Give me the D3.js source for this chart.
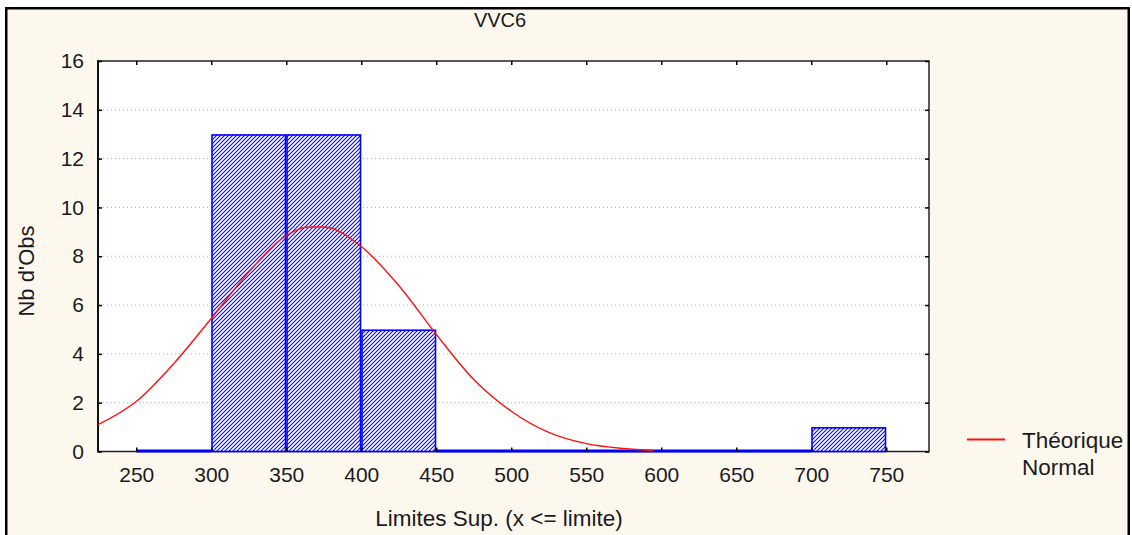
<!DOCTYPE html>
<html>
<head>
<meta charset="utf-8">
<script src="https://cdn.jsdelivr.net/npm/d3@7"></script>
<style>
  body { margin: 0; background: #fff; }
  svg { display: block; }
  text { font-family: "Liberation Sans", Arial, sans-serif; fill: #1a1a24; }
</style>
</head>
<body>
<svg id="chart" width="1132" height="535"></svg>
<script>
// Histogram of VVC6: upper class limits and counts per class
const binEdges = [250, 300, 350, 400, 450, 500, 550, 600, 650, 700, 750];
const binCounts = [0, 13, 13, 5, 0, 0, 0, 0, 0, 1];

// Expected (normal) frequencies along the x range
const normalX = [224.5, 250, 275, 300, 325, 350, 365, 375, 400, 425, 450, 475, 500, 525, 550, 575, 595];
const normalY = [1.1, 2.05, 3.6, 5.45, 7.35, 8.85, 9.2, 9.2, 8.4, 6.8, 4.8, 2.95, 1.65, 0.78, 0.32, 0.12, 0.04];

const xTicks = [250, 300, 350, 400, 450, 500, 550, 600, 650, 700, 750];
const yTicks = [0, 2, 4, 6, 8, 10, 12, 14, 16];

const titleText = "VVC6";
const xTitle = "Limites Sup. (x <= limite)";
const yTitle = "Nb d'Obs";
const legendLines = ["Théorique", "Normal"];

const svg = d3.select("#chart");
const plot = { left: 98, right: 929, top: 61, bottom: 451.5 };

const x = d3.scaleLinear().domain([224.5, 778.5]).range([plot.left, plot.right]);
const y = d3.scaleLinear().domain([0, 16]).range([plot.bottom, plot.top]);

// hatch fill for the bars
const P = 4;
const defs = svg.append("defs");
const pat = defs.append("pattern")
  .attr("id", "hatch")
  .attr("patternUnits", "userSpaceOnUse")
  .attr("width", P).attr("height", P);
pat.append("rect").attr("width", P).attr("height", P).attr("fill", "#fff");
pat.append("path")
  .attr("d", `M-1,1 L1,-1 M0,${P} L${P},0 M${P - 1},${P + 1} L${P + 1},${P - 1}`)
  .attr("stroke", "#0a0af5").attr("stroke-width", 1.15);

// outer panel
svg.append("rect")
  .attr("x", 6.25).attr("y", 8.25)
  .attr("width", 1122.5).attr("height", 600)
  .attr("fill", "#fdf8ed").attr("stroke", "#000").attr("stroke-width", 2.5);

// plot area
svg.append("rect")
  .attr("x", plot.left).attr("y", plot.top)
  .attr("width", plot.right - plot.left).attr("height", plot.bottom - plot.top)
  .attr("fill", "#fff").attr("stroke", "#222").attr("stroke-width", 1.5);

// dotted horizontal grid
svg.append("g").selectAll("line")
  .data(yTicks.filter(t => t > 0 && t < 16))
  .join("line")
  .attr("x1", plot.left + 1).attr("x2", plot.right - 1)
  .attr("y1", d => y(d)).attr("y2", d => y(d))
  .attr("stroke", "#b0b0b0").attr("stroke-width", 1)
  .attr("stroke-dasharray", "1,3");

// bins
const bins = binCounts.map((c, i) => ({ lo: binEdges[i], hi: binEdges[i + 1], count: c }));

svg.append("g").selectAll("line")
  .data(bins.filter(b => b.count === 0))
  .join("line")
  .attr("x1", d => x(d.lo)).attr("x2", d => x(d.hi))
  .attr("y1", y(0) - 0.5).attr("y2", y(0) - 0.5)
  .attr("stroke", "#0000ff").attr("stroke-width", 3);

svg.append("g").selectAll("rect")
  .data(bins.filter(b => b.count > 0))
  .join("rect")
  .attr("x", d => x(d.lo) + 0.75)
  .attr("width", d => x(d.hi) - x(d.lo) - 1.5)
  .attr("y", d => y(d.count) + 0.75)
  .attr("height", d => y(0) - y(d.count) - 0.75)
  .attr("fill", "url(#hatch)")
  .attr("stroke", "#0000ff").attr("stroke-width", 1.6);

// axes: inward ticks on all four sides
const axisFont = 21;
const gLeft = svg.append("g").attr("transform", `translate(${plot.left},0)`)
  .call(d3.axisLeft(y).tickValues(yTicks).tickSizeInner(-4).tickSizeOuter(0).tickPadding(14).tickFormat(d3.format("d")));
const gBottom = svg.append("g").attr("transform", `translate(0,${plot.bottom})`)
  .call(d3.axisBottom(x).tickValues(xTicks).tickSizeInner(-4).tickSizeOuter(0).tickPadding(16).tickFormat(d3.format("d")));
const gTop = svg.append("g").attr("transform", `translate(0,${plot.top})`)
  .call(d3.axisTop(x).tickValues(xTicks).tickSizeInner(-4).tickSizeOuter(0).tickFormat(""));
const gRight = svg.append("g").attr("transform", `translate(${plot.right},0)`)
  .call(d3.axisRight(y).tickValues(yTicks).tickSizeInner(-4).tickSizeOuter(0).tickFormat(""));

[gLeft, gBottom, gTop, gRight].forEach(g => {
  g.select(".domain").remove();
  g.selectAll(".tick line").attr("stroke", "#000").attr("stroke-width", 1.5);
  g.selectAll(".tick text").attr("font-size", axisFont).attr("fill", "#1a1a24")
    .attr("font-family", "Liberation Sans, Arial, sans-serif");
});

// left axis line drawn heavier
svg.append("line")
  .attr("x1", plot.left).attr("x2", plot.left)
  .attr("y1", plot.top - 0.75).attr("y2", plot.bottom + 0.75)
  .attr("stroke", "#111").attr("stroke-width", 2);

// fitted normal curve
const line = d3.line()
  .x((d, i) => x(normalX[i]))
  .y(d => y(d))
  .curve(d3.curveMonotoneX);
svg.append("path")
  .datum(normalY)
  .attr("d", line)
  .attr("fill", "none")
  .attr("stroke", "#ff1010").attr("stroke-width", 1.4);

// titles
svg.append("text")
  .attr("x", 500).attr("y", 27)
  .attr("text-anchor", "middle").attr("font-size", 20)
  .text(titleText);

svg.append("text")
  .attr("x", 499).attr("y", 526)
  .attr("text-anchor", "middle").attr("font-size", 22.5)
  .text(xTitle);

svg.append("text")
  .attr("transform", "translate(34,271) rotate(-90)")
  .attr("text-anchor", "middle").attr("font-size", 22)
  .text(yTitle);

// legend
const lg = svg.append("g");
lg.append("line")
  .attr("x1", 967).attr("x2", 1005)
  .attr("y1", 439.5).attr("y2", 439.5)
  .attr("stroke", "#ff1010").attr("stroke-width", 2);
lg.selectAll("text")
  .data(legendLines)
  .join("text")
  .attr("x", 1022)
  .attr("y", (d, i) => 448 + i * 27)
  .attr("font-size", 22.5)
  .text(d => d);
</script>
</body>
</html>
